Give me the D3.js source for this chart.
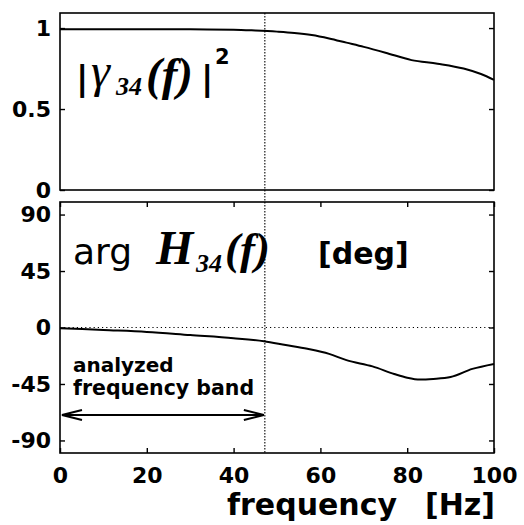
<!DOCTYPE html>
<html><head><meta charset="utf-8">
<script src="https://cdn.jsdelivr.net/npm/d3@7"></script>
<style>
body{margin:0;background:#fff;}
svg{display:block;}
.tk text{font-family:"DejaVu Sans",sans-serif;font-weight:bold;font-size:22px;fill:#000;}
</style></head>
<body>
<script>
// Data
const cohFreq  = [0,10,20,30,40,45,50,54,58,62,66,70,75,81,87,93,97,100];
const cohValue = [0.993,0.993,0.993,0.992,0.99,0.985,0.978,0.97,0.957,0.936,0.91,0.884,0.848,0.802,0.78,0.75,0.716,0.68];
const phaseFreq  = [0,10,20,30,40,47,52,57,62,66,72,77,80,83,86,90,95,100];
const phaseValue = [-0.5,-2,-3.5,-6,-8.5,-11,-14,-17,-21,-26,-31,-37,-40,-41.5,-41,-39.5,-33,-29];
const xTicks = [0,20,40,60,80,100];
const cohTicks = [0,0.5,1];
const phaseTicks = [90,45,0,-45,-90];
const bandEdge = 47.2;

const W=524,H=525;
const svg=d3.select("body").append("svg").attr("width",W).attr("height",H);
const x=d3.scaleLinear().domain([0,100]).range([60,494]);
const yTop=d3.scaleLinear().domain([0,1.093]).range([190,13]);
const yBot=d3.scaleLinear().domain([-100,100]).range([453,202]);

function panel(y, ticks, fmt, xTop, xBottom){
  const [y0,y1]=y.range();
  svg.append("rect").attr("x",x(0)).attr("y",y1).attr("width",x(100)-x(0)).attr("height",y0-y1)
    .attr("fill","none").attr("stroke","#000").attr("stroke-width",1.6);
  const la=svg.append("g").attr("class","tk").attr("transform",`translate(${x(0)},0)`)
    .call(d3.axisLeft(y).tickValues(ticks).tickSize(-5).tickSizeOuter(0).tickPadding(9).tickFormat(fmt));
  const ra=svg.append("g").attr("class","tk").attr("transform",`translate(${x(100)},0)`)
    .call(d3.axisRight(y).tickValues(ticks).tickSize(-5).tickSizeOuter(0).tickFormat(""));
  [la,ra].forEach(g=>{g.select(".domain").remove();g.selectAll("line").attr("stroke-width",1.4);});
  if(xTop){
    const g=svg.append("g").attr("transform",`translate(0,${y1})`)
      .call(d3.axisTop(x).tickValues(xTicks).tickSize(-5).tickSizeOuter(0).tickFormat(""));
    g.select(".domain").remove(); g.selectAll("line").attr("stroke-width",1.4);
  }
  if(xBottom){
    const g=svg.append("g").attr("class","tk").attr("transform",`translate(0,${y0})`)
      .call(d3.axisBottom(x).tickValues(xTicks).tickSize(-5).tickSizeOuter(0));
    g.select(".domain").remove(); g.selectAll("line").attr("stroke-width",1.4);
    g.selectAll("text").attr("y",30).attr("dy",0);
  }
}
panel(yTop, cohTicks, d=>String(d), false, false);
panel(yBot, phaseTicks, d=>String(d), true, true);

svg.append("line").attr("x1",x(0)).attr("x2",x(100)).attr("y1",yBot(0)).attr("y2",yBot(0))
  .attr("stroke","#000").attr("stroke-width",1).attr("stroke-dasharray","1.2,3");
svg.append("line").attr("x1",x(bandEdge)).attr("x2",x(bandEdge)).attr("y1",yTop.range()[1]).attr("y2",yBot.range()[0])
  .attr("stroke","#000").attr("stroke-width",1.1).attr("stroke-dasharray","1.5,1.5");

const line=(xs,ys,ysc)=>d3.line().curve(d3.curveMonotoneX).x((d,i)=>x(xs[i])).y((d,i)=>ysc(ys[i]))(xs);
svg.append("path").attr("d",line(cohFreq,cohValue,yTop)).attr("fill","none").attr("stroke","#000").attr("stroke-width",2);
svg.append("path").attr("d",line(phaseFreq,phaseValue,yBot)).attr("fill","none").attr("stroke","#000").attr("stroke-width",2);

const ay=415, ax0=x(0)+2, ax1=x(bandEdge)-1;
svg.append("line").attr("x1",ax0).attr("x2",ax1).attr("y1",ay).attr("y2",ay).attr("stroke","#000").attr("stroke-width",2);
svg.append("path").attr("d",`M${ax0+20},${ay-5}L${ax0},${ay}L${ax0+20},${ay+5}`).attr("fill","none").attr("stroke","#000").attr("stroke-width",2);
svg.append("path").attr("d",`M${ax1-20},${ay-5}L${ax1},${ay}L${ax1-20},${ay+5}`).attr("fill","none").attr("stroke","#000").attr("stroke-width",2);

const sans='"DejaVu Sans",sans-serif', serif='"Liberation Serif","Times New Roman",serif';
function txt(xp,yp,s,font,size,opts={}){
  const t=svg.append("text").attr("x",xp).attr("y",yp).attr("font-family",font).attr("font-size",size).attr("fill","#000").text(s);
  if(opts.bold) t.attr("font-weight","bold");
  if(opts.italic) t.attr("font-style","italic");
  return t;
}
// coherence label |γ34(f)|^2
txt(76,90,"|",sans,34,{bold:true});
txt(91,87,"γ",serif,48,{italic:true});
txt(116,95,"34",serif,26,{italic:true,bold:true});
txt(146,90,"(f)",serif,47,{italic:true,bold:true});
txt(201,90,"|",sans,34,{bold:true});
txt(215,64,"2",sans,21,{bold:true});

// phase label
txt(73,264,"arg",sans,36);
txt(156,264,"H",serif,48,{italic:true,bold:true});
txt(196,272,"34",serif,26,{italic:true,bold:true});
txt(225,264,"(f)",serif,45,{italic:true,bold:true});
txt(318,264,"[deg]",sans,30,{bold:true});

txt(73,372,"analyzed",sans,20,{bold:true});
txt(73,395,"frequency band",sans,20.5,{bold:true});

txt(227,515,"frequency",sans,30,{bold:true});
txt(425,515,"[Hz]",sans,30,{bold:true});
</script>
</body></html>
